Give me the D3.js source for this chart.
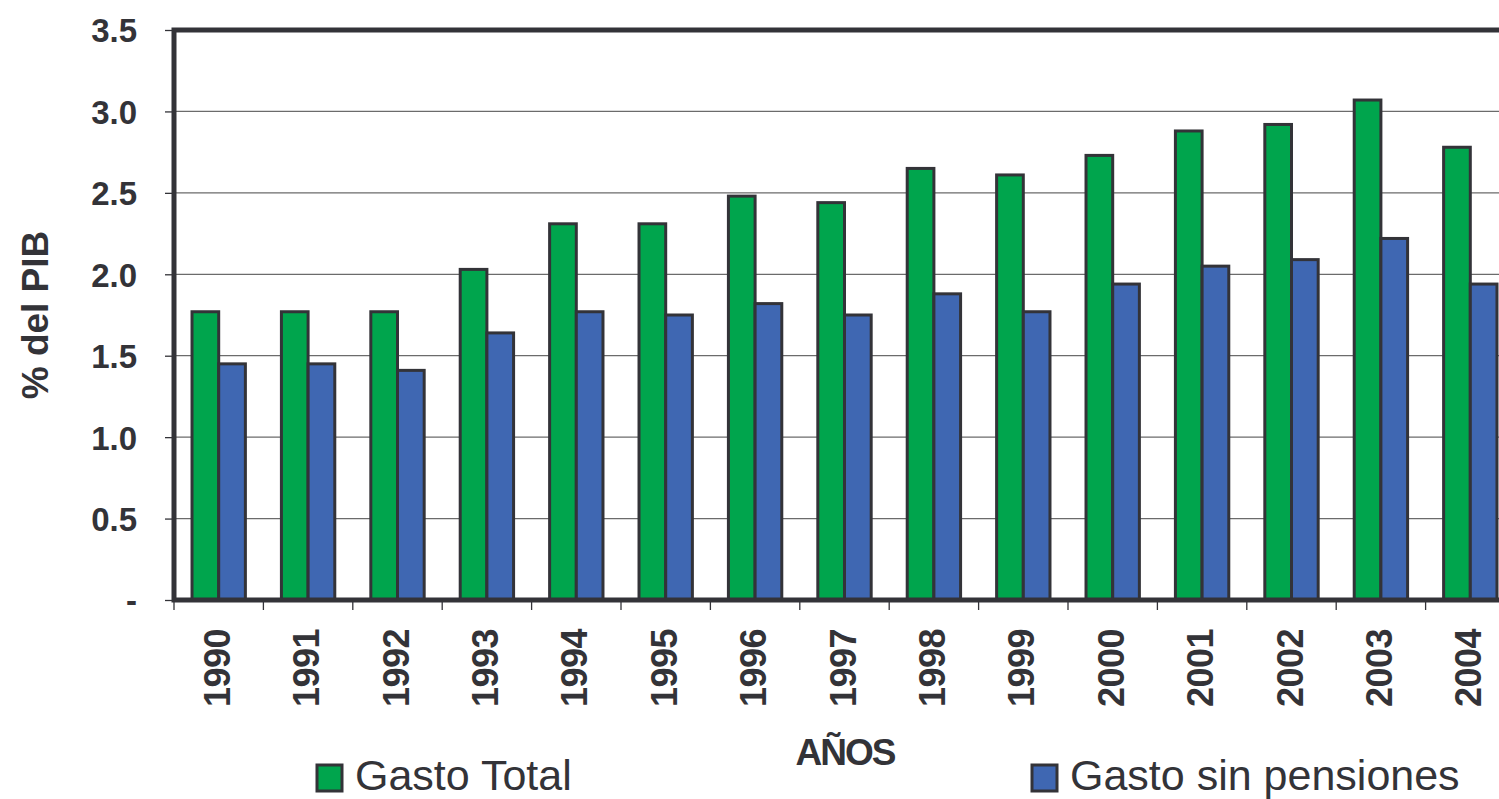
<!DOCTYPE html>
<meta charset="utf-8">
<script src="https://cdn.jsdelivr.net/npm/d3@7"></script>
<style>
    body { margin: 0; background: #fff; }
    text { font-family: "Liberation Sans", Arial, sans-serif; fill: #333338; }
    .tick text { font-weight: bold; font-size: 33px; }
    .xlab text { font-weight: bold; font-size: 36px; letter-spacing: -0.5px; }
    .grid line { stroke: #6b6b6b; stroke-width: 1.3px; }
</style>
<body>
<script>
    var years = ["1990", "1991", "1992", "1993", "1994", "1995", "1996", "1997",
        "1998", "1999", "2000", "2001", "2002", "2003", "2004"];
    var gastoTotal = [1.77, 1.77, 1.77, 2.03, 2.31, 2.31, 2.48, 2.44, 2.65, 2.61, 2.73, 2.88, 2.92, 3.07, 2.78];
    var gastoSinPensiones = [1.45, 1.45, 1.41, 1.64, 1.77, 1.75, 1.82, 1.75, 1.88, 1.77, 1.94, 2.05, 2.09, 2.22, 1.94];
    var seriesNames = ["Gasto Total", "Gasto sin pensiones"];
    var yTicks = [0, 0.5, 1.0, 1.5, 2.0, 2.5, 3.0, 3.5];

    var width = 1499, height = 799;
    var plotLeft = 174, plotTop = 30, plotBottom = 600, plotRight = 1515;
    var colors = ["#00a54d", "#3f67b2"];

    var svg = d3.select("body").append("svg")
        .attr("width", width)
        .attr("height", height);

    var x = d3.scaleBand().domain(years).range([plotLeft, plotRight]);
    var x1 = d3.scaleBand().domain([0, 1]).range([0, x.bandwidth()]).paddingOuter(0.675).paddingInner(0);
    var y = d3.scaleLinear().domain([0, 3.5]).range([plotBottom, plotTop]);

    // gridlines
    svg.append("g")
        .attr("class", "grid")
        .selectAll("line")
        .data(yTicks.slice(1, -1))
        .enter().append("line")
        .attr("x1", plotLeft).attr("x2", plotRight)
        .attr("y1", function (d) { return y(d); })
        .attr("y2", function (d) { return y(d); });

    // y axis
    var yAxis = svg.append("g")
        .attr("transform", "translate(" + plotLeft + ",0)")
        .call(d3.axisLeft(y).tickValues(yTicks).tickSize(9).tickPadding(28)
            .tickFormat(function (d) { return d === 0 ? "-" : d3.format(".1f")(d); }));
    yAxis.select(".domain").remove();
    yAxis.selectAll(".tick line").attr("stroke", "#333338").attr("stroke-width", 1.3);
    yAxis.selectAll(".tick text").attr("dy", "0.36em").attr("fill", "#333338");

    // x axis ticks at band boundaries
    var xTickPos = years.map(function (d) { return x(d); });
    svg.append("g").selectAll("line")
        .data(xTickPos)
        .enter().append("line")
        .attr("x1", function (d) { return d; }).attr("x2", function (d) { return d; })
        .attr("y1", plotBottom).attr("y2", plotBottom + 10)
        .attr("stroke", "#333338").attr("stroke-width", 1.3);

    svg.append("g").attr("class", "xlab").selectAll("text")
        .data(years)
        .enter().append("text")
        .attr("transform", function (d) {
            return "translate(" + (x(d) + x.bandwidth() / 2 + 11) + "," + (plotBottom + 29) + ") rotate(-90)";
        })
        .attr("text-anchor", "end")
        .text(function (d) { return d; });

    // bars
    var groups = svg.append("g").selectAll("g")
        .data(years)
        .enter().append("g")
        .attr("transform", function (d) { return "translate(" + x(d) + ",0)"; });

    groups.selectAll("rect")
        .data(function (d, i) { return [gastoTotal[i], gastoSinPensiones[i]]; })
        .enter().append("rect")
        .attr("x", function (d, j) { return x1(j); })
        .attr("width", x1.bandwidth())
        .attr("y", function (d) { return y(d); })
        .attr("height", function (d) { return y(0) - y(d); })
        .attr("fill", function (d, j) { return colors[j]; })
        .attr("stroke", "#333338")
        .attr("stroke-width", 3);

    // frame
    svg.append("path")
        .attr("d", "M" + plotRight + "," + plotTop + "H" + plotLeft + "V" + plotBottom + "H" + plotRight)
        .attr("fill", "none")
        .attr("stroke", "#333338")
        .attr("stroke-width", 5);

    // axis titles
    svg.append("text")
        .attr("transform", "translate(48,315) rotate(-90)")
        .attr("text-anchor", "middle")
        .style("font-weight", "bold")
        .style("font-size", "37px")
        .text("% del PIB");

    svg.append("text")
        .attr("x", 845).attr("y", 765)
        .attr("text-anchor", "middle")
        .style("font-weight", "bold")
        .style("font-size", "37px")
        .style("letter-spacing", "-2px")
        .text("AÑOS");

    // legend
    var legendX = [317, 1032];
    var legend = svg.append("g").selectAll("g")
        .data(seriesNames)
        .enter().append("g")
        .attr("transform", function (d, i) { return "translate(" + legendX[i] + ",765)"; });
    legend.append("rect")
        .attr("width", 25).attr("height", 26)
        .attr("fill", function (d, i) { return colors[i]; })
        .attr("stroke", "#333338").attr("stroke-width", 3);
    legend.append("text")
        .attr("x", 38).attr("y", 25)
        .style("font-size", "43px")
        .text(function (d) { return d; });
</script>
</body>
